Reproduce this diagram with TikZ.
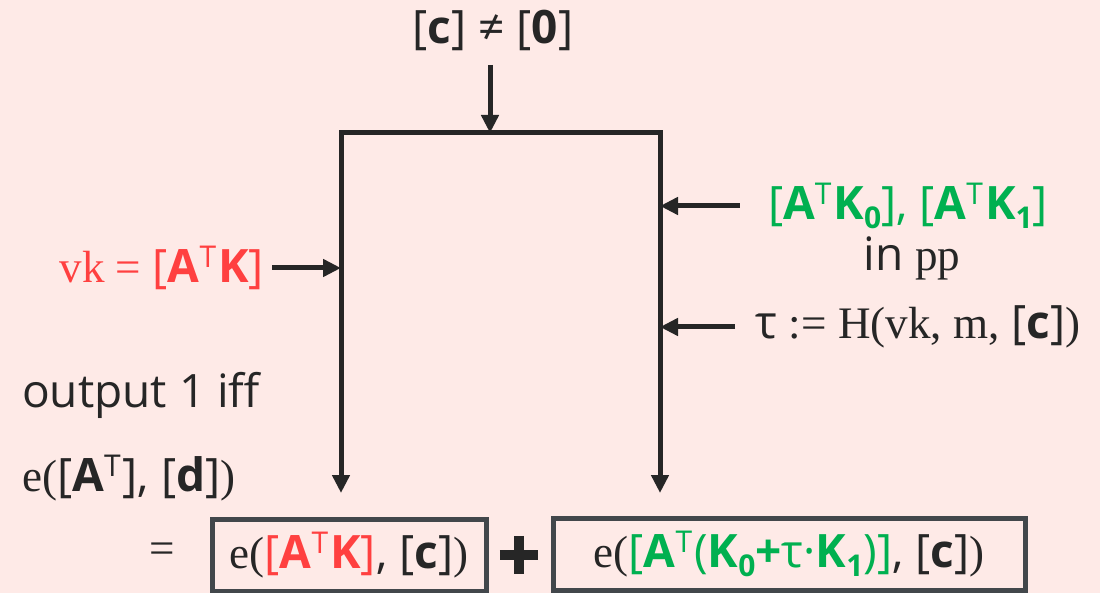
\documentclass[tikz,border=0pt]{standalone}
\usepackage{fontspec}
\setmainfont{Open Sans}
\newfontfamily\sr[Scale=0.98]{Liberation Serif}
\usetikzlibrary{arrows.meta,positioning}
\definecolor{bgpink}{HTML}{FEEAE7}
\definecolor{ink}{HTML}{262626}
\definecolor{boxc}{HTML}{42474B}
\definecolor{redc}{HTML}{FF4040}
\definecolor{greenc}{HTML}{00B050}
\newcommand{\tp}{\raisebox{0.6ex}{\fontsize{30}{30}\selectfont\mdseries T}\kern2pt}
\newcommand{\sub}[1]{\raisebox{-0.35ex}{\fontsize{30}{30}\selectfont #1}}
\newcommand{\fs}{\fontsize{46}{52}\selectfont}
\tikzset{
    lbl/.style={inner sep=0pt, font=\fs, text=ink},
    arr/.style={draw=ink, line width=5pt, -{Triangle[length=18pt,width=17pt]}},
    biarr/.style={draw=ink, line width=5pt, line join=miter, {Triangle[length=18pt,width=17pt]}-{Triangle[length=18pt,width=17pt]}},
    term/.style={draw=boxc, line width=5pt, inner sep=0pt, font=\fs, text=ink, minimum height=72pt}
}
\begin{document}
\begin{tikzpicture}[x=1pt, y=-1pt]
    \fill[bgpink] (0,0) rectangle (1100,593);
    \useasboundingbox (0,0) rectangle (1100,593);

    % Nodes
    \node[lbl] (cne) at (493,30) {[\textbf{c}] ≠ [\textbf{0}]};
    \node[lbl, text=redc, anchor=east] (vk) at (264,268) {{\sr vk = }[\textbf{A}\tp\textbf{K}]};
    \node[lbl, text=greenc] (pk) at (908,206) {[\textbf{A}\tp\textbf{K\sub{0}}], [\textbf{A}\tp\textbf{K\sub{1}}]};
    \node[lbl] (pp) at (912,258) {in {\sr pp}};
    \node[lbl, anchor=west] (tau) at (755,327) {τ {\sr := H(vk, m,} [\textbf{c}]{\sr )}};
    \node[lbl, anchor=west] (out) at (22,395) {output 1 iff};
    \node[lbl, anchor=west] (lhs) at (22,478) {{\sr e(}[\textbf{A}\tp], [\textbf{d}]{\sr )}};
    \node[lbl] (eq) at (162,553) {\sr =};
    \node[term, minimum width=274pt] (t1) at (349,555) {{\sr e(}{\color{redc}[\textbf{A}\tp\textbf{K}]}, [\textbf{c}]{\sr )}};
    \node[term, minimum width=472pt] (t2) at (789,554) {{\sr e(}{\color{greenc}[\textbf{A}\tp(\textbf{K\sub{0}+}τ·\textbf{K\sub{1}})]}, [\textbf{c}]{\sr )}};
    \node[inner sep=0pt, minimum size=38pt] (plus) at (519,555) {};

    \coordinate (tl) at (341,133);
    \coordinate (tr) at (660,133);
    \coordinate (bl) at (341,493);
    \coordinate (br) at (660,493);
    \coordinate (tm) at (490,133);

    % edges
    \draw[biarr] (bl) |- (tr) -- (br);
    \draw[arr] (490,65) -- (tm);
    \draw[arr] (vk.east) ++(8,0) -- (tl |- vk.east);
    \draw[arr] (pk.west) ++(-28,0) -- (tr |- pk.west);
    \draw[arr] (tau.west) ++(-20,0) -- (tr |- tau.west);
    \draw[ink, line width=10pt] (plus.west) -- (plus.east) (plus.north) -- (plus.south);
\end{tikzpicture}
\end{document}
